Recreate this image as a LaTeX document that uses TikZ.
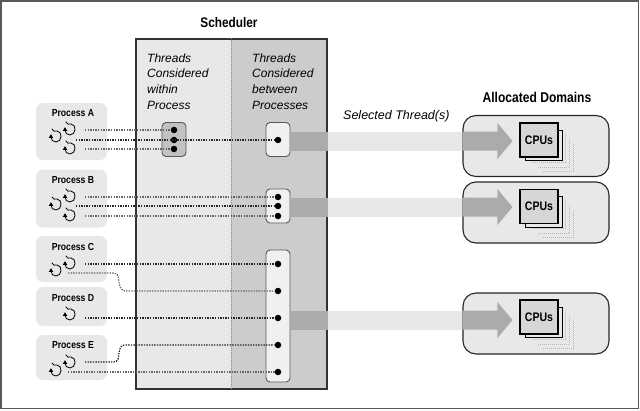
\documentclass[tikz,border=0pt]{standalone}
\usepackage{fontspec}
\setmainfont{Liberation Sans}
\newfontfamily\narrowfont[FakeStretch=0.85]{Liberation Sans}
\usetikzlibrary{calc}
\definecolor{panellight}{gray}{0.91}
\definecolor{paneldark}{gray}{0.80}
\definecolor{banddark}{gray}{0.67}
\definecolor{boxpale}{gray}{0.94}
\definecolor{cpufill}{gray}{0.84}
\tikzset{
  x=1pt,y=-1pt,
  procbox/.style={rectangle,fill=panellight,rounded corners=7pt,inner sep=0,minimum width=71pt},
  proclabel/.style={inner sep=0,font=\narrowfont\bfseries\fontsize{10.2}{12}\selectfont},
  headline/.style={inner sep=0,font=\narrowfont\bfseries\fontsize{13.9}{16}\selectfont},
  ital/.style={inner sep=0,anchor=north west,align=left,font=\itshape\fontsize{12}{15.6}\selectfont},
  threaddot/.style={circle,fill=black,inner sep=0,minimum size=6.5pt},
  threadbox/.style={rectangle,draw=black!65,line width=0.9pt,rounded corners=4pt,fill=boxpale,inner sep=0,minimum width=24pt},
  innerbox/.style={threadbox,fill=black!24},
  threadline/.style={draw=black!60,line width=1.25pt,dash pattern=on 1.4pt off 1.2pt},
  threadlinedark/.style={draw=black!85,line width=1.25pt,dash pattern=on 1.4pt off 1.2pt},
  bandlight/.style={draw=panellight,line width=19pt},
  bandheavy/.style={draw=banddark,line width=19pt},
  dombox/.style={rectangle,draw=black!85,line width=1.1pt,fill=panellight,rounded corners=13pt,minimum width=146pt,minimum height=61pt,inner sep=0},
  cpubox/.style={rectangle,draw=black,line width=1.2pt,fill=cpufill,minimum width=38pt,minimum height=34pt,inner sep=0,font=\narrowfont\bfseries\fontsize{12.4}{14}\selectfont},
  stackdots/.style={draw=black!28,line width=0.8pt,dash pattern=on 1pt off 1pt},
  pics/curlicon/.style={code={
    \draw[black,line width=0.8pt,line cap=round] (-4,-7) .. controls (-3.5,-4) and (-1,-5) .. (1,-5)
      .. controls (7,-4.5) and (6,6) .. (0,6) .. controls (-3,6) and (-5,4) .. (-5,1);
    \fill[black] (-5,-1.8) -- (-7.2,1.8) -- (-2.8,1.8) -- cycle;
  }},
}
\newcommand{\cpugroup}[2]{%
  \draw[stackdots] (573,#1+4) -- (573,#1+31) -- (543,#1+31);
  \draw[stackdots] (569,#1-1) -- (569,#1+27) -- (537,#1+27);
  \draw[stackdots] (565,#1-7) -- (565,#1+22) -- (532,#1+22);
  \draw[black,line width=1pt,fill=panellight] (525.5,#1+20.5) rectangle (562.5,#1-10);
  \node[cpubox] (#2) at (539,#1) {CPUs};
}
\begin{document}
\begin{tikzpicture}
\useasboundingbox (0,0) rectangle (640,410);
\draw[black!65,line width=1.2pt] (1,1) rectangle (638.5,408.5);
% scheduler
\fill[panellight] (136,39) rectangle (231,389);
\fill[paneldark] (231,39) rectangle (327,389);
\node[rectangle,draw=black!80,line width=1.1pt,minimum width=191pt,minimum height=350pt,inner sep=0] (sched) at (231.5,214) {};
\draw[black!45,line width=1pt,dash pattern=on 1pt off 1pt] (sched.north) -- (sched.south);
\node[headline] (schedtitle) at (229,23) {Scheduler};
\node[ital] (within) at (147,53.5) {Threads\\Considered\\within\\Process};
\node[ital] (between) at (252,53.5) {Threads\\Considered\\between\\Processes};
\node[ital,anchor=west,font=\itshape\fontsize{12.5}{15}\selectfont] (selected) at (343,116) {Selected Thread(s)};
\node[headline,font=\narrowfont\bfseries\fontsize{14.2}{16}\selectfont] (domtitle) at (537,97) {Allocated Domains};
% processes
\foreach \n/\cy/\h in {pa/131.5/57,pb/198.5/58,pc/259/46,pd/306.5/39,pe/357.5/45}
  \node[procbox,minimum height=\h pt] (\n) at (71.5,\cy) {};
\node[proclabel] (la) at (73,113) {Process A};
\node[proclabel] (lb) at (73,180) {Process B};
\node[proclabel] (lc) at (73,247) {Process C};
\node[proclabel] (ld) at (73,298) {Process D};
\node[proclabel] (le) at (73,345.5) {Process E};
\foreach \ix/\iy in {56/136,70/129,70/148,56/204,70/196,70/215,56/270,70/263,70/314,56/370,70/362}
  \pic at (\ix,\iy) {curlicon};
% domains
\node[dombox] (d1) at (536,146) {};
\node[dombox] (d2) at (536,212.5) {};
\node[dombox] (d3) at (536,323.5) {};
% thread boxes
\node[innerbox,minimum height=34pt] (ib) at (174,139.5) {};
\node[threadbox,minimum height=34pt] (g1) at (278,139.5) {};
\node[threadbox,minimum height=34pt] (g2) at (278,206) {};
\node[threadbox,minimum height=132pt] (g3) at (278,316) {};
% bands and arrows
\coordinate (b1) at (g1.east |- 0,141);
\coordinate (b2) at (g2.east |- 0,207);
\coordinate (b3) at (g3.east |- 0,320);
\foreach \b/\d in {b1/d1,b2/d2,b3/d3}{
  \draw[bandheavy] (\b) -- (\b -| sched.east);
  \draw[bandlight] (\b -| sched.east) -- (\b -| \d.west);
  \fill[banddark] ($(\b -| \d.west)+(0,-9.5)$) -- ++(35,0) -- ++(0,-8.5) -- ($(\b -| \d.west)+(50,0)$)
     -- ($(\b -| \d.west)+(35,18)$) -- ++(0,-8.5) -- ++(-35,0) -- cycle;
}
% dots
\foreach \n/\dx/\dy in {ia/174/130,ib2/174/140,ic/174/149,t1/278/140,t2/278/197,t3/278/206,t4/278/216,
  t5/278/264,t6/278/291,t7/278/318,t8/278/345,t9/278/372}
  \node[threaddot] (\n) at (\dx,\dy) {};
% free ends of the connectors
\foreach \n/\dx/\dy in {sa/85/130,sb/76/140,sc/85/149,sd/85/197,se/76/206,sf/85/216,
  sg/85/264,sh/68/273,si/85/318,sj/85/362,sk/68/372}
  \coordinate (\n) at (\dx,\dy);
\draw[threadline] (sa) -- (ia);
\draw[threadlinedark] (sb) -- (t1);
\draw[threadline] (sc) -- (ic);
\draw[threadline] (sd) -- (t2);
\draw[threadlinedark] (se) -- (t3);
\draw[threadline] (sf) -- (t4);
\draw[threadlinedark] (sg) -- (t5);
\draw[threadline] (sh) -- (113,273) .. controls (119,273) and (118,277) .. (119,282) .. controls (120,288) and (121,291) .. (126,291) -- (t6);
\draw[threadlinedark] (si) -- (t7);
\draw[threadlinedark] (sj) -- (113,362) .. controls (119,362) and (118,358) .. (119,353) .. controls (120,347) and (121,345) .. (126,345) -- (t8);
\draw[threadline] (sk) -- (t9);
% CPUs
\cpugroup{140}{c1}
\cpugroup{206.5}{c2}
\cpugroup{317}{c3}
\end{tikzpicture}
\end{document}
